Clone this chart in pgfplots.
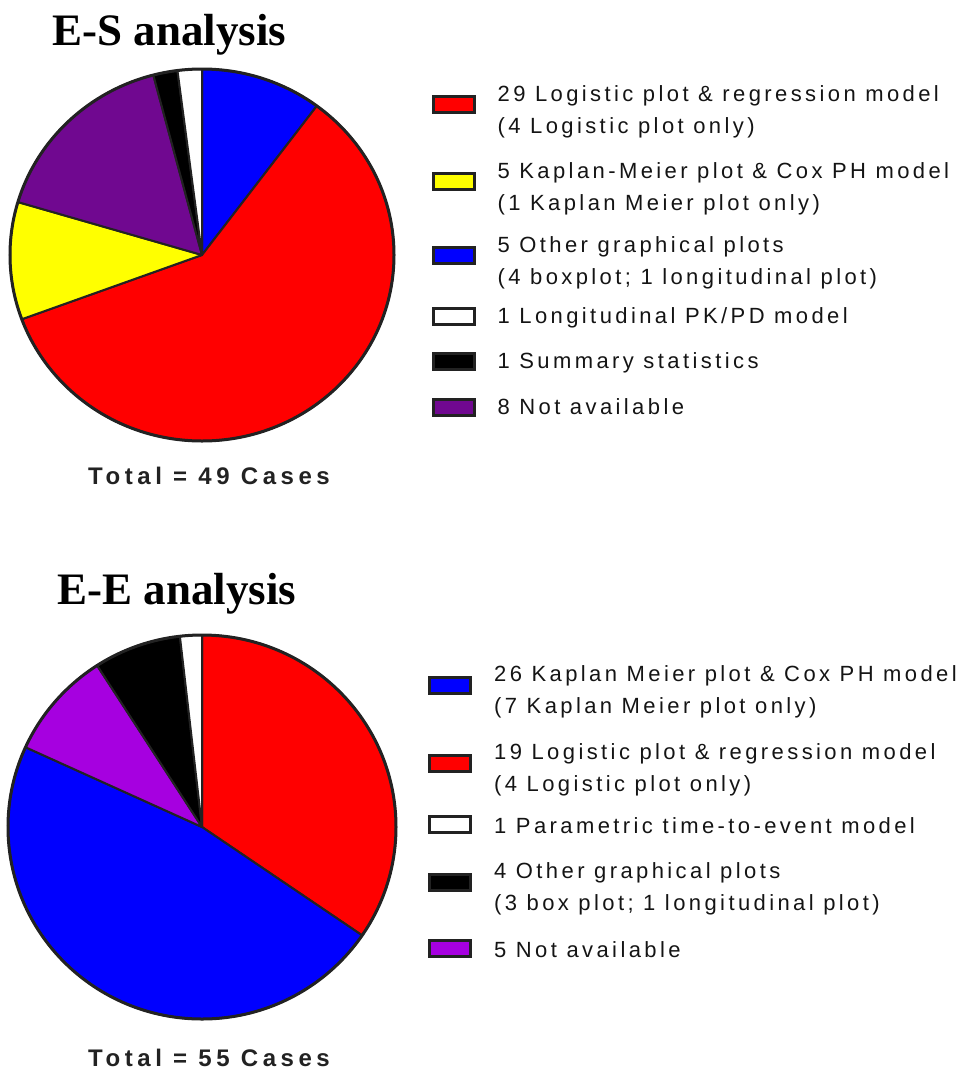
\documentclass[border=0pt]{standalone}
\usepackage{pgfplots}
\pgfplotsset{compat=1.18}
\usepackage{pgfplotstable}
\usepackage{fontspec}
\setmainfont{Liberation Sans}
\newfontfamily\legfont[LetterSpace=15.5]{Liberation Sans}
\newfontfamily\totfont[LetterSpace=19]{Liberation Sans}
\newfontfamily\titlefont{Liberation Serif}

\definecolor{pRed}{RGB}{255,0,0}
\definecolor{pBlue}{RGB}{0,0,255}
\definecolor{pYellow}{RGB}{255,255,0}
\definecolor{pPurpleA}{RGB}{112,8,144}
\definecolor{pPurpleB}{RGB}{166,0,224}
\definecolor{pBlack}{RGB}{0,0,0}
\definecolor{pWhite}{RGB}{255,255,255}
\definecolor{pieedge}{RGB}{34,34,34}
\definecolor{txt}{RGB}{20,20,20}

% clockwise from 12 o'clock
\pgfplotstableread{
value col
5 pBlue
29 pRed
5 pYellow
8 pPurpleA
1 pBlack
1 pWhite
}\EStab

\pgfplotstableread{
value col
19 pRed
26 pBlue
5 pPurpleB
4 pBlack
1 pWhite
}\EEtab

% #1 table, #2 x radius, #3 y radius
\newcommand\drawpie[3]{%
  \pgfplotstablegetrowsof{#1}%
  \pgfmathtruncatemacro\pienrows{\pgfplotsretval-1}%
  \xdef\pietotal{0}%
  \foreach \i in {0,...,\pienrows}{%
    \pgfplotstablegetelem{\i}{value}\of{#1}%
    \pgfmathsetmacro\tmp{\pietotal+\pgfplotsretval}%
    \xdef\pietotal{\tmp}%
  }%
  \xdef\pieangle{90}%
  \foreach \i in {0,...,\pienrows}{%
    \pgfplotstablegetelem{\i}{value}\of{#1}%
    \pgfmathsetmacro\pieend{\pieangle-360*\pgfplotsretval/\pietotal}%
    \pgfplotstablegetelem{\i}{col}\of{#1}%
    \edef\piecmd{\noexpand\filldraw[fill=\pgfplotsretval,draw=pieedge,line width=1pt,line join=round] (axis cs:0,0) -- (axis cs:{cos(\pieangle)},{sin(\pieangle)}) arc[start angle=\pieangle,end angle=\pieend,x radius=#2,y radius=#3] -- cycle;}%
    \piecmd
    \xdef\pieangle{\pieend}%
  }%
  \draw[pieedge,line width=1.5pt] (axis cs:0,0) ellipse[x radius=#2,y radius=#3];
}

% legend text with fixed extent: #1 height above first baseline, #2 depth below it
\newcommand\legone[3]{\raisebox{#2}{\rule[-#2]{0pt}{\dimexpr #1+#2\relax}#3}}
\newcommand\legtwo[4]{\raisebox{#2}{\rule[-#2]{0pt}{\dimexpr #1+#2\relax}\vtop{\hbox{#3}\hbox{#4}}}}

\pgfplotsset{
  pieaxis/.style={scale only axis, hide axis, xmin=-1, xmax=1, ymin=-1, ymax=1, anchor=center, clip=false,
    legend cell align=left,
    legend style={draw=none, fill=none, inner sep=0pt, outer sep=0pt, anchor=north west,
      column sep=11pt, row sep=0pt,
      font=\legfont\fontsize{11pt}{16pt}\selectfont\color{txt},
      cells={anchor=west},
      nodes={inner sep=0pt, outer sep=0pt}},
  },
  pieleg/.style={legend image code/.code={\filldraw[##1, draw=pieedge, line width=1.5pt] (0pt,-4pt) rectangle (20.5pt,4pt);}},
}

\begin{document}
\begin{tikzpicture}[x=0.5pt,y=-0.5pt]
\path[use as bounding box] (0,0) rectangle (963,1071);

\node[anchor=base west, inner sep=0pt, font=\titlefont\bfseries\fontsize{22.5pt}{27pt}\selectfont] at (52,45) {E-S analysis};
\node[anchor=base west, inner sep=0pt, font=\titlefont\bfseries\fontsize{22.5pt}{27pt}\selectfont] at (57,604) {E-E analysis};

\begin{axis}[pieaxis, at={(101pt,-127.5pt)}, width=192pt, height=186pt,
  legend style={at={(axis description cs:1.098,1.0094)}}]
  \drawpie{\EStab}{96pt}{93pt}
  \addlegendimage{pieleg, fill=pRed}
  \addlegendentry{\legtwo{17.75pt}{19.75pt}{29 Logistic plot \& regression model}{(4 Logistic plot only)}}
  \addlegendimage{pieleg, fill=pYellow}
  \addlegendentry{\legtwo{17.25pt}{19.25pt}{5 Kaplan-Meier plot \& Cox PH model}{(1 Kaplan Meier plot only)}}
  \addlegendimage{pieleg, fill=pBlue}
  \addlegendentry{\legtwo{16.25pt}{18.25pt}{5 Other graphical plots}{(4 boxplot; 1 longitudinal plot)}}
  \addlegendimage{pieleg, fill=pWhite}
  \addlegendentry{\legone{15.75pt}{7.75pt}{1 Longitudinal PK/PD model}}
  \addlegendimage{pieleg, fill=pBlack}
  \addlegendentry{\legone{13.25pt}{5.25pt}{1 Summary statistics}}
  \addlegendimage{pieleg, fill=pPurpleA}
  \addlegendentry{\legone{16.25pt}{8.25pt}{8 Not available}}
\end{axis}

\begin{axis}[pieaxis, at={(101pt,-413.5pt)}, width=194pt, height=192pt,
  legend style={at={(axis description cs:1.083,0.9714)}}]
  \drawpie{\EEtab}{97pt}{96pt}
  \addlegendimage{pieleg, fill=pBlue}
  \addlegendentry{\legtwo{17.75pt}{20.75pt}{26 Kaplan Meier plot \& Cox PH model}{(7 Kaplan Meier plot only)}}
  \addlegendimage{pieleg, fill=pRed}
  \addlegendentry{\legtwo{16.75pt}{19.75pt}{19 Logistic plot \& regression model}{(4 Logistic plot only)}}
  \addlegendimage{pieleg, fill=pWhite}
  \addlegendentry{\legone{15.75pt}{5.75pt}{1 Parametric time-to-event model}}
  \addlegendimage{pieleg, fill=pBlack}
  \addlegendentry{\legtwo{15.25pt}{18.25pt}{4 Other graphical plots}{(3 box plot; 1 longitudinal plot)}}
  \addlegendimage{pieleg, fill=pPurpleB}
  \addlegendentry{\legone{19.75pt}{9.75pt}{5 Not available}}
\end{axis}

\node[anchor=base, inner sep=0pt, text=pieedge, font=\totfont\bfseries\fontsize{12pt}{14pt}\selectfont] at (209,484) {Total = 49 Cases};
\node[anchor=base, inner sep=0pt, text=pieedge, font=\totfont\bfseries\fontsize{12pt}{14pt}\selectfont] at (209,1066) {Total = 55 Cases};
\end{tikzpicture}
\end{document}
